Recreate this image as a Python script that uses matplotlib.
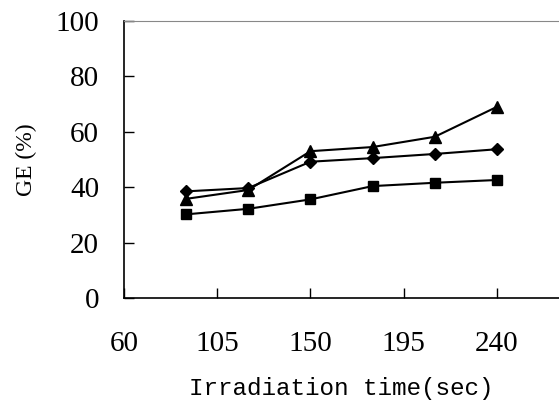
import matplotlib
matplotlib.use("Agg")
import matplotlib.pyplot as plt

time = [90, 120, 150, 180, 210, 240]
diamond = [38.5, 39.7, 49.2, 50.5, 52.0, 53.7]
triangle = [35.8, 39.0, 53.0, 54.5, 58.2, 69.0]
square = [30.2, 32.2, 35.6, 40.4, 41.6, 42.6]
xticks = [60, 105, 150, 195, 240]
yticks = [0, 20, 40, 60, 80, 100]

fig = plt.figure(figsize=(5.59, 4.0), dpi=100)
ax = fig.add_axes([0.222, 0.255, 0.778, 0.6925])

ax.plot(time, diamond, color="black", marker="D", markersize=6.5, linewidth=1.5)
ax.plot(time, triangle, color="black", marker="^", markersize=8, linewidth=1.5)
ax.plot(time, square, color="black", marker="s", markersize=7, linewidth=1.5)

ax.set_xlim(60, 270)
ax.set_ylim(0, 100)
ax.set_xticks(xticks)
ax.set_yticks(yticks)
ax.tick_params(direction="in", length=7, width=1, pad=18, labelsize=21)
ax.tick_params(axis="x", pad=24)
for lbl in ax.get_xticklabels() + ax.get_yticklabels():
    lbl.set_family("Liberation Serif")

ax.spines["right"].set_visible(False)
ax.spines["top"].set_color("#888888")
ax.spines["top"].set_linewidth(0.8)
ax.spines["top"].set_linestyle((0, (6, 1)))
ax.spines["left"].set_linewidth(1.2)
ax.spines["bottom"].set_linewidth(1.2)

ax.set_xlabel("Irradiation time(sec)", family="Liberation Mono", fontsize=17.5, labelpad=14)
ax.set_ylabel("GE (%)", family="Liberation Serif", fontsize=17, labelpad=13)

fig.savefig("out.png", dpi=100)
